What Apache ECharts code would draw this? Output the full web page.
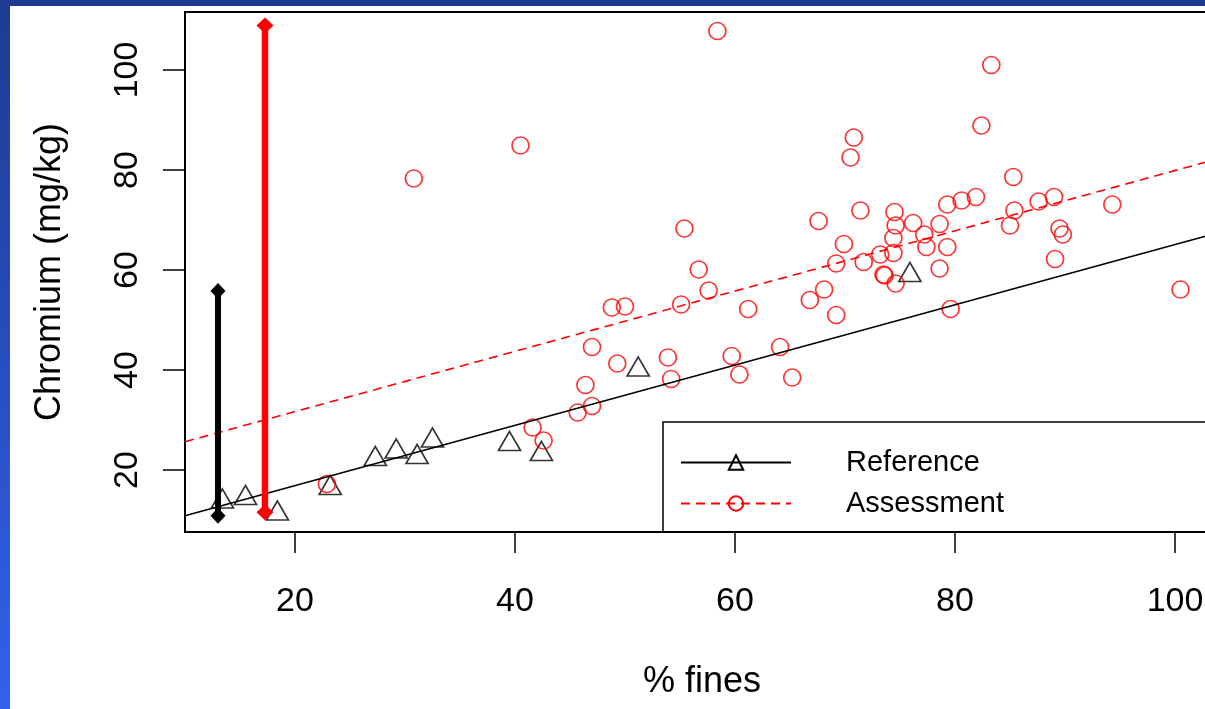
<!DOCTYPE html>
<html>
<head>
<meta charset="utf-8">
<script src="https://cdn.jsdelivr.net/npm/echarts@6/dist/echarts.min.js"></script>
<style>
html, body { margin: 0; padding: 0; background: #fff; overflow: hidden; }
#chart { width: 1230px; height: 709px; }
</style>
</head>
<body>
<div id="chart"></div>
<script>
// reference sites: [% fines, Cr mg/kg]
var refPoints = [
    [13.4, 14.3], [15.5, 15.0], [18.4, 11.9], [23.2, 17.0], [27.3, 22.8],
    [29.2, 24.3], [31.1, 23.2], [32.5, 26.5], [39.5, 25.8], [42.4, 23.8],
    [51.2, 40.7], [75.9, 59.6]
];
// assessment sites
var assessPoints = [
    [22.9, 17.2], [30.8, 78.3], [40.5, 84.9], [41.6, 28.5], [42.6, 25.9],
    [45.7, 31.5], [46.4, 37.0], [47.0, 32.8], [47.0, 44.6], [48.8, 52.5],
    [49.3, 41.3], [50.0, 52.7], [53.9, 42.5], [54.2, 38.2], [55.1, 53.1],
    [55.4, 68.3], [56.7, 60.1], [57.6, 55.9], [58.4, 107.8], [59.7, 42.8],
    [60.4, 39.1], [61.2, 52.2], [64.1, 44.6], [65.2, 38.5], [66.8, 54.0],
    [67.6, 69.8], [68.1, 56.1], [69.2, 51.0], [69.2, 61.3], [69.9, 65.2],
    [70.5, 82.5], [70.8, 86.5], [71.4, 71.9], [71.7, 61.6], [73.2, 63.1],
    [73.5, 59.1], [73.6, 58.9], [74.4, 66.4], [74.4, 63.4], [74.5, 71.6],
    [74.6, 68.9], [74.6, 57.3], [76.2, 69.4], [77.2, 67.1], [77.4, 64.6],
    [78.6, 60.3], [78.6, 69.2], [79.3, 73.1], [79.3, 64.6], [79.6, 52.2],
    [80.6, 73.9], [81.9, 74.6], [82.4, 88.9], [83.3, 101.0], [85.0, 68.9],
    [85.3, 78.6], [85.4, 71.9], [87.6, 73.7], [89.0, 74.6], [89.1, 62.2],
    [89.5, 68.3], [89.8, 67.1], [94.3, 73.1], [100.5, 56.1]
];
// fitted lines, end points
var refFit = [[10, 10.86], [104, 67.5]];
var assessFit = [[10, 25.66], [104, 82.3]];
// ranges at the left
var refRange = [[13.0, 10.86], [13.0, 55.8]];
var assessRange = [[17.27, 11.54], [17.27, 108.9]];

var xTicks = [20, 40, 60, 80, 100];
var yTicks = [20, 40, 60, 80, 100];

var font = '"Liberation Sans", Arial, sans-serif';

var myChart = echarts.init(document.getElementById('chart'));
var option = {
    backgroundColor: '#fff',
    animation: false,
    textStyle: { fontFamily: font },
    graphic: [
        { type: 'rect', z: 100, shape: { x: 0, y: 0, width: 1230, height: 6 }, style: { fill: '#1f3a94' } },
        {
            type: 'rect', z: 100, shape: { x: 0, y: 0, width: 10, height: 709 },
            style: {
                fill: new echarts.graphic.LinearGradient(0, 0, 0, 1, [
                    { offset: 0, color: '#1f3a90' },
                    { offset: 1, color: '#3062ec' }
                ])
            }
        }
    ],
    // plot box runs past the right edge of the picture
    grid: {
        left: 185, top: 12, right: 11, bottom: 177,
        show: true, borderColor: '#000', borderWidth: 2, backgroundColor: '#fff'
    },
    xAxis: {
        type: 'value', min: 10, max: 104,
        name: '% fines', nameLocation: 'middle', nameGap: 132,
        nameTextStyle: { fontSize: 36, color: '#000', fontFamily: font },
        axisLine: { show: false },
        splitLine: { show: false },
        axisTick: { show: true, length: 21, customValues: xTicks, lineStyle: { color: '#000', width: 1.5 } },
        axisLabel: { customValues: xTicks, fontSize: 34, color: '#000', margin: 53, fontFamily: font }
    },
    yAxis: {
        type: 'value', min: 7.6, max: 111.6,
        name: 'Chromium (mg/kg)', nameLocation: 'middle', nameGap: 117, nameRotate: 90,
        nameTextStyle: { fontSize: 36, color: '#000', fontFamily: font },
        axisLine: { show: false },
        splitLine: { show: false },
        axisTick: { show: true, length: 22, customValues: yTicks, lineStyle: { color: '#000', width: 1.5 } },
        axisLabel: { customValues: yTicks, rotate: 90, fontSize: 34, color: '#000', margin: 40, fontFamily: font }
    },
    legend: {
        data: ['Reference', 'Assessment'],
        orient: 'vertical', left: 663, top: 422,
        padding: [26, 500, 14, 17],
        borderColor: '#000', borderWidth: 1.5,
        itemWidth: 110, itemHeight: 18, itemGap: 12,
        selectedMode: false,
        formatter: function (name) { return '{g|}' + name; },
        textStyle: { fontSize: 29, color: '#000', fontFamily: font, rich: { g: { width: 50 } } }
    },
    series: [
        {
            name: 'Reference', type: 'line', data: refFit,
            symbol: 'triangle', showSymbol: false, silent: true,
            lineStyle: { color: '#000', width: 1.6 },
            itemStyle: { color: 'transparent', borderColor: '#000', borderWidth: 1.6 }
        },
        {
            name: 'Assessment', type: 'line', data: assessFit,
            symbol: 'circle', showSymbol: false, silent: true,
            lineStyle: { color: '#ff0000', width: 1.6, type: [9, 6] },
            itemStyle: { color: 'transparent', borderColor: '#ff0000', borderWidth: 1.6 }
        },
        {
            name: 'refPts', type: 'scatter', data: refPoints,
            symbol: 'triangle', symbolSize: [22, 19], silent: true,
            itemStyle: { color: 'transparent', borderColor: '#000', borderWidth: 1.7 }
        },
        {
            name: 'assessPts', type: 'scatter', data: assessPoints,
            symbol: 'circle', symbolSize: 17, silent: true,
            itemStyle: { color: 'transparent', borderColor: '#ff0000', borderWidth: 1.7 }
        },
        {
            name: 'refRange', type: 'line', data: refRange,
            symbol: 'diamond', symbolSize: [15, 16], showSymbol: true, silent: true,
            lineStyle: { color: '#000', width: 6 },
            itemStyle: { color: '#000' }
        },
        {
            name: 'assessRange', type: 'line', data: assessRange,
            symbol: 'diamond', symbolSize: [17, 16], showSymbol: true, silent: true,
            lineStyle: { color: '#ff0000', width: 6.5 },
            itemStyle: { color: '#ff0000' }
        }
    ]
};
myChart.setOption(option);
</script>
</body>
</html>
